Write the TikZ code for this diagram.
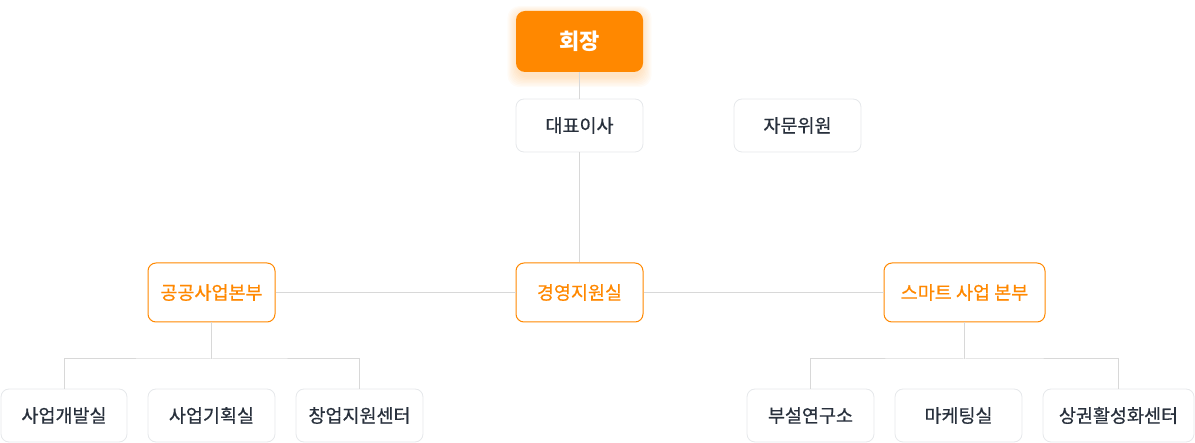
\documentclass[tikz,border=0pt]{standalone}
\usepackage{fontspec}
\setmainfont{Noto Sans CJK KR}
\newfontfamily\boxfont[FakeBold=0.6]{Noto Sans CJK KR}
\usepackage{xcolor}
\usetikzlibrary{positioning}
\definecolor{mainorange}{HTML}{FF8800}
\definecolor{textdark}{HTML}{28303C}
\definecolor{boxgray}{HTML}{E6E8EB}
\definecolor{linegray}{HTML}{D8D8D8}
\tikzstyle{chair} = [rounded corners=9pt, minimum width=127pt, minimum height=61pt, fill=mainorange, text=white, font=\fontsize{22}{26}\selectfont\bfseries]
\tikzstyle{office} = [rounded corners=8pt, minimum width=127pt, minimum height=53pt, draw=boxgray, line width=0.8pt, fill=white, text=textdark, font=\boxfont\fontsize{18.5}{22}\selectfont]
\tikzstyle{division} = [rounded corners=8pt, minimum width=127pt, minimum height=59pt, draw=mainorange, line width=1pt, fill=white, text=mainorange, font=\boxfont\fontsize{18.5}{22}\selectfont]
\tikzstyle{link} = [draw=linegray, line width=1pt]

\begin{document}
\begin{tikzpicture}[x=1pt, y=-1pt]
\useasboundingbox (0,0) rectangle (1195,443);
% glow behind the chair box
\foreach \g in {1,...,8}
  \fill[mainorange, opacity=0.03, rounded corners=12pt] (517-\g*1.2,14-\g*1) rectangle (642+\g*1.2,76+\g*1.4);

\node (chair) [chair] at (579.5,41.5) {회장};
\node (ceo) [office] at (579.5,125.5) {대표이사};
\node (advisor) [office] at (797.5,125.5) {자문위원};

\node (mgmt) [division] at (579.5,292.5) {경영지원실};
\node (public) [division] at (211.5,292.5) {공공사업본부};
\node (smart) [division, minimum width=161pt] at (964.5,292.5) {스마트 사업 본부};

\node (dev) [office, minimum width=126pt] at (64,415.5) {사업개발실};
\node (plan) [office] at (211.5,415.5) {사업기획실};
\node (startup) [office] at (359.5,415.5) {창업지원센터};
\node (lab) [office] at (810.5,415.5) {부설연구소};
\node (mkt) [office] at (958.5,415.5) {마케팅실};
\node (market) [office, minimum width=151pt] at (1118.5,415.5) {상권활성화센터};

\coordinate (lbus) at (211.5,359);
\coordinate (rbus) at (964.5,359);

\draw [link] (chair) -- (ceo);
\draw [link] (ceo) -- (mgmt);
\draw [link] (public) -- (mgmt);
\draw [link] (mgmt) -- (smart);
\draw [link] (public) -- (lbus);
\draw [link] (dev.north) |- (lbus) -| (startup.north);
\draw [link] (smart) -- (rbus);
\draw [link] (lab.north) |- (rbus) -| (market.north);
\end{tikzpicture}
\end{document}
